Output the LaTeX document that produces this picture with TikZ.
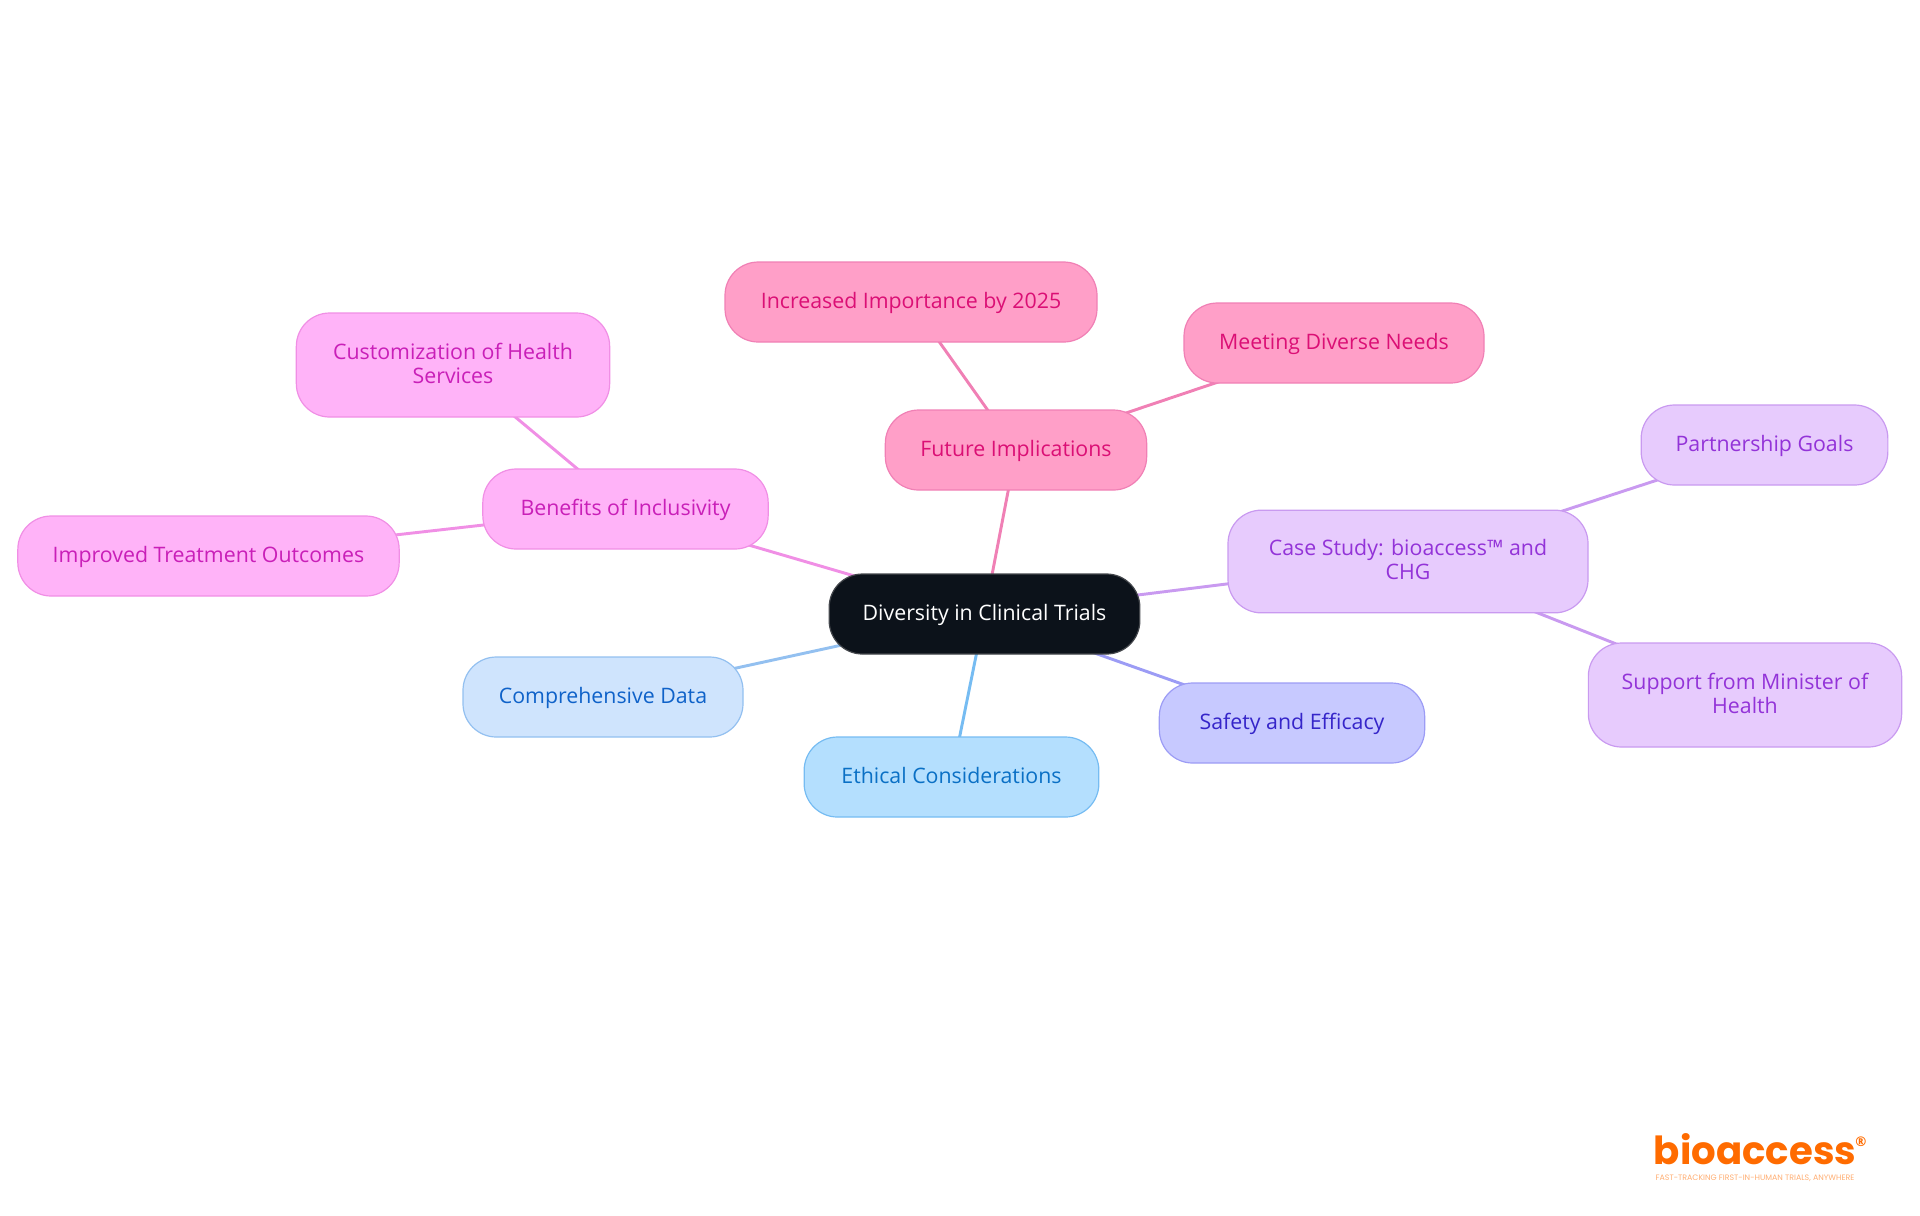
\documentclass[tikz,border=0pt]{standalone}
\usepackage{fontspec}
\setmainfont{Open Sans}
\newfontfamily\logofont{Poppins}
\definecolor{rootF}{HTML}{0C121A}\definecolor{rootD}{HTML}{44474C}
\definecolor{blueF}{HTML}{CFE4FD}\definecolor{blueD}{HTML}{93C0F0}\definecolor{blueT}{HTML}{0F62C9}
\definecolor{skyF}{HTML}{B4DFFE}\definecolor{skyD}{HTML}{76BCF2}\definecolor{skyT}{HTML}{0A70C5}
\definecolor{indF}{HTML}{C7C9FF}\definecolor{indD}{HTML}{9C9CF5}\definecolor{indT}{HTML}{3525C9}
\definecolor{purF}{HTML}{E7CBFD}\definecolor{purD}{HTML}{C99AF0}\definecolor{purT}{HTML}{9333D8}
\definecolor{magF}{HTML}{FFB3F8}\definecolor{magD}{HTML}{F08FE5}\definecolor{magT}{HTML}{C91FB8}
\definecolor{pinF}{HTML}{FF9FC8}\definecolor{pinD}{HTML}{F080B5}\definecolor{pinT}{HTML}{DB0F75}
\definecolor{logoC}{HTML}{FF6B00}
\pgfdeclarelayer{bg}\pgfsetlayers{bg,main}
\newcommand{\lastdepth}{\rule[-2.5pt]{0pt}{2.5pt}}
\tikzset{
  mind/.style={rectangle,rounded corners=25pt,inner sep=0pt,align=center,line width=0.9pt,
    font=\fontsize{16}{18}\selectfont},
  oneline/.style={text height=12.5pt,text depth=3.5pt,minimum height=60pt},
  rootn/.style={mind,oneline,fill=rootF,draw=rootD,text=white,minimum width=233pt},
  bluen/.style={mind,fill=blueF,draw=blueD,text=blueT},
  skyn/.style={mind,fill=skyF,draw=skyD,text=skyT},
  indn/.style={mind,fill=indF,draw=indD,text=indT},
  purn/.style={mind,fill=purF,draw=purD,text=purT},
  magn/.style={mind,fill=magF,draw=magD,text=magT},
  pinn/.style={mind,fill=pinF,draw=pinD,text=pinT},
  link/.style={line width=2.2pt},
  logon/.style={inner sep=0pt,text=logoC,anchor=base},
}
\begin{document}
\begin{tikzpicture}[x=0.75pt,y=-0.75pt]
\useasboundingbox (0,0) rectangle (1920,1215);
\node[rootn] (root) at (984.5,614) {Diversity in Clinical Trials};
\node[bluen,oneline,minimum width=210pt] (data) at (603,697) {Comprehensive Data};
\node[skyn,oneline,minimum width=221pt] (eth) at (951.5,777) {Ethical Considerations};
\node[indn,oneline,minimum width=199pt] (safe) at (1292,723) {Safety and Efficacy};
\node[purn,minimum width=270pt,minimum height=77pt] (case) at (1408,561.5) {Case Study: bioaccess™ and\\CHG\lastdepth};
\node[purn,oneline,minimum width=185pt] (goal) at (1764.5,445) {Partnership Goals};
\node[purn,minimum width=235pt,minimum height=78pt] (min) at (1745,695) {Support from Minister of\\Health\lastdepth};
\node[magn,oneline,minimum width=214pt] (ben) at (625.5,509) {Benefits of Inclusivity};
\node[magn,oneline,minimum width=286pt] (imp) at (208.5,556) {Improved Treatment Outcomes};
\node[magn,minimum width=235pt,minimum height=78pt] (cust) at (453,365) {Customization of Health\\Services\lastdepth};
\node[pinn,oneline,minimum width=196pt] (fut) at (1016,450) {Future Implications};
\node[pinn,oneline,minimum width=279pt] (inc) at (911,302) {Increased Importance by 2025};
\node[pinn,oneline,minimum width=225pt] (meet) at (1334,343) {Meeting Diverse Needs};
\begin{pgfonlayer}{bg}
\draw[link,blueD] (root.center) -- (data.center);
\draw[link,skyD] (root.center) -- (eth.center);
\draw[link,indD] (root.center) -- (safe.center);
\draw[link,purD] (root.center) -- (case.center);
\draw[link,purD] (case.center) -- (goal.center);
\draw[link,purD] (case.center) -- (min.center);
\draw[link,magD] (root.center) -- (ben.center);
\draw[link,magD] (ben.center) -- (imp.center);
\draw[link,magD] (ben.center) -- (cust.center);
\draw[link,pinD] (root.center) -- (fut.center);
\draw[link,pinD] (fut.center) -- (inc.center);
\draw[link,pinD] (fut.center) -- (meet.center);
\end{pgfonlayer}
\node[logon,font=\logofont\bfseries\fontsize{29}{29}\selectfont] (logo) at (1755,1164) {bioaccess};
\node[logon,font=\fontsize{10}{10}\selectfont\bfseries] (reg) at (1861,1146) {®};
\node[logon,text=logoC!55,font=\logofont\fontsize{5.9}{6}\selectfont] (tag) at (1755,1180) {FAST-TRACKING FIRST-IN-HUMAN TRIALS, ANYWHERE};
\end{tikzpicture}
\end{document}
